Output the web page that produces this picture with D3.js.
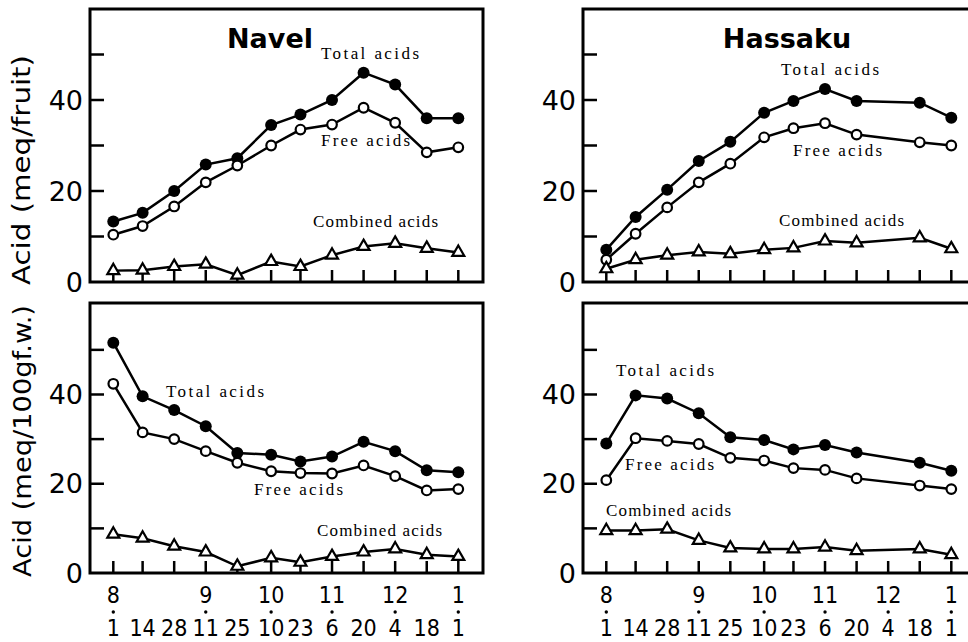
<!DOCTYPE html>
<html>
<head>
<meta charset="utf-8">
<script src="https://cdn.jsdelivr.net/npm/d3@7"></script>
<style>
  body { margin: 0; background: #fff; }
  .frame { fill: none; stroke: #000; stroke-width: 3; }
  .tick { stroke: #000; stroke-width: 2.5; }
  .line { fill: none; stroke: #000; stroke-width: 2.5; }
  .num { font-family: "DejaVu Sans", sans-serif; fill: #000; }
  .note { font-family: "Liberation Serif", serif; font-size: 17px; fill: #000; }
</style>
</head>
<body>
<div id="graph"></div>
<script>
// sampling dates (Aug 1 .. Jan 1)
var dates = ["1980-08-01","1980-08-14","1980-08-28","1980-09-11","1980-09-25","1980-10-10",
             "1980-10-23","1980-11-06","1980-11-20","1980-12-04","1980-12-18","1981-01-01"];
// hassaku has no sample on Dec 4
var hassakuDates = ["1980-08-01","1980-08-14","1980-08-28","1980-09-11","1980-09-25","1980-10-10",
                    "1980-10-23","1980-11-06","1980-11-20","1980-12-18","1981-01-01"];

var dayLabels = ["1","14","28","11","25","10","23","6","20","4","18","1"];
var monthDates = ["1980-08-01","1980-09-11","1980-10-10","1980-11-06","1980-12-04","1981-01-01"];
var monthLabels = ["8","9","10","11","12","1"];

var yTicks = [10, 20, 30, 40, 50];
var yLabels = [0, 20, 40];

// navel, meq/fruit
var navelFruitTotal    = [13.3, 15.2, 20.0, 25.8, 27.2, 34.5, 36.8, 40.0, 46.0, 43.4, 36.0, 36.0];
var navelFruitFree     = [10.4, 12.3, 16.6, 21.9, 25.6, 30.0, 33.5, 34.6, 38.3, 35.0, 28.5, 29.6];
var navelFruitCombined = [2.5, 2.6, 3.4, 3.9, 1.5, 4.5, 3.4, 5.9, 7.8, 8.5, 7.4, 6.5];

// hassaku, meq/fruit
var hassakuFruitTotal    = [7.1, 14.3, 20.3, 26.6, 30.8, 37.2, 39.8, 42.4, 39.8, 39.4, 36.1];
var hassakuFruitFree     = [4.9, 10.6, 16.4, 21.9, 26.0, 31.8, 33.8, 34.9, 32.4, 30.7, 30.0];
var hassakuFruitCombined = [2.9, 4.9, 5.9, 6.6, 6.2, 7.1, 7.5, 9.0, 8.6, 9.7, 7.3];

// navel, meq/100g f.w.
var navelFwTotal    = [51.6, 39.6, 36.5, 32.9, 26.9, 26.5, 25.0, 26.1, 29.4, 27.3, 23.0, 22.6];
var navelFwFree     = [42.4, 31.5, 30.0, 27.3, 24.7, 22.8, 22.4, 22.3, 24.1, 21.7, 18.5, 18.8];
var navelFwCombined = [8.7, 7.8, 6.0, 4.7, 1.5, 3.4, 2.4, 3.7, 4.7, 5.4, 4.1, 3.7];

// hassaku, meq/100g f.w.
var hassakuFwTotal    = [29.0, 39.8, 39.1, 35.8, 30.4, 29.8, 27.7, 28.7, 27.0, 24.7, 22.9];
var hassakuFwFree     = [20.8, 30.2, 29.6, 28.9, 25.8, 25.2, 23.5, 23.1, 21.2, 19.6, 18.8];
var hassakuFwCombined = [9.5, 9.5, 9.8, 7.3, 5.6, 5.4, 5.4, 5.8, 5.0, 5.4, 4.1];

var parseTime = d3.timeParse("%Y-%m-%d");

// panel layout
var panelWidth = 393;
var panels = [
  {left: 90,  top: 9,   height: 273, ymax: 60,   title: "Navel",   dates: dates,
   series: [navelFruitTotal, navelFruitFree, navelFruitCombined],
   notes: [[231, 50], [231, 137], [223, 218]]},
  {left: 583, top: 9,   height: 273, ymax: 60,   title: "Hassaku", dates: hassakuDates,
   series: [hassakuFruitTotal, hassakuFruitFree, hassakuFruitCombined],
   notes: [[198, 66], [210, 147], [196, 217]]},
  {left: 90,  top: 303, height: 270, ymax: 60.5, dates: dates, xLabels: true,
   series: [navelFwTotal, navelFwFree, navelFwCombined],
   notes: [[76, 94], [164, 192], [227, 233]]},
  {left: 583, top: 303, height: 270, ymax: 60.5, dates: hassakuDates, xLabels: true,
   series: [hassakuFwTotal, hassakuFwFree, hassakuFwCombined],
   notes: [[33, 73], [42, 167], [23, 213]]}
];
var noteTexts = ["Total acids", "Free acids", "Combined acids"];

var svg = d3.select("#graph")
  .append("svg")
  .attr("width", 968)
  .attr("height", 642);

// y axis titles
svg.append("text")
  .attr("class", "num")
  .attr("transform", "translate(30,170)rotate(-90)")
  .attr("text-anchor", "middle")
  .attr("textLength", 230)
  .attr("lengthAdjust", "spacingAndGlyphs")
  .style("font-size", "25px")
  .style("font-weight", "500")
  .text("Acid (meq/fruit)");

svg.append("text")
  .attr("class", "num")
  .attr("transform", "translate(31,441)rotate(-90)")
  .attr("text-anchor", "middle")
  .attr("textLength", 272)
  .attr("lengthAdjust", "spacingAndGlyphs")
  .style("font-size", "25px")
  .text("Acid (meq/100gf.w.)");

panels.forEach(function(p) {
  var g = svg.append("g")
    .attr("transform", "translate(" + p.left + "," + p.top + ")");

  var x = d3.scaleTime()
    .domain([parseTime(dates[0]), parseTime(dates[dates.length - 1])])
    .range([23.3, 368.3]);
  var y = d3.scaleLinear().domain([0, p.ymax]).range([p.height, 0]);

  // frame
  g.append("rect")
    .attr("class", "frame")
    .attr("width", panelWidth)
    .attr("height", p.height);

  // y ticks pointing inward
  g.selectAll(".ytick")
    .data(yTicks)
    .enter()
    .append("line")
    .attr("class", "tick")
    .attr("x1", 0)
    .attr("x2", 14)
    .attr("y1", function(d) { return y(d); })
    .attr("y2", function(d) { return y(d); });

  g.selectAll(".ylab")
    .data(yLabels)
    .enter()
    .append("text")
    .attr("class", "num")
    .attr("x", -7)
    .attr("y", function(d) { return y(d); })
    .attr("dy", "0.36em")
    .attr("text-anchor", "end")
    .style("font-size", "27px")
    .text(function(d) { return d; });

  // x ticks pointing up
  g.selectAll(".xtick")
    .data(dates)
    .enter()
    .append("line")
    .attr("class", "tick")
    .attr("x1", function(d) { return x(parseTime(d)); })
    .attr("x2", function(d) { return x(parseTime(d)); })
    .attr("y1", p.height)
    .attr("y2", p.height - 12);

  if (p.xLabels) {
    g.selectAll(".month")
      .data(monthDates)
      .enter()
      .append("text")
      .attr("class", "num")
      .attr("x", function(d) { return x(parseTime(d)); })
      .attr("y", p.height + 30)
      .attr("text-anchor", "middle")
      .style("font-size", "23px")
      .style("font-stretch", "condensed")
      .text(function(d, i) { return monthLabels[i]; });

    g.selectAll(".mdot")
      .data(monthDates)
      .enter()
      .append("circle")
      .attr("cx", function(d) { return x(parseTime(d)); })
      .attr("cy", p.height + 39)
      .attr("r", 1.7)
      .attr("fill", "#000");

    g.selectAll(".day")
      .data(dates)
      .enter()
      .append("text")
      .attr("class", "num")
      .attr("x", function(d) { return x(parseTime(d)); })
      .attr("y", p.height + 63)
      .attr("text-anchor", "middle")
      .style("font-size", "23px")
      .style("font-stretch", "condensed")
      .text(function(d, i) { return dayLabels[i]; });
  }

  if (p.title) {
    g.append("text")
      .attr("class", "num")
      .attr("x", p.title == "Navel" ? 180 : 204)
      .attr("y", 39)
      .attr("text-anchor", "middle")
      .style("font-size", "27px")
      .style("font-weight", "bold")
      .text(p.title);
  }

  // lines and markers
  var line = d3.line()
    .x(function(d) { return x(d.date); })
    .y(function(d) { return y(d.value); });

  p.series.forEach(function(values, k) {
    var pts = values.map(function(v, i) {
      return {date: parseTime(p.dates[i]), value: v};
    });

    g.append("path")
      .datum(pts)
      .attr("class", "line")
      .attr("d", line);

    if (k == 2) {
      g.selectAll(".tri" + k)
        .data(pts)
        .enter()
        .append("path")
        .attr("d", d3.symbol(d3.symbolTriangle).size(62))
        .attr("transform", function(d) { return "translate(" + x(d.date) + "," + y(d.value) + ")"; })
        .attr("fill", "#fff")
        .attr("stroke", "#000")
        .attr("stroke-width", 2.2);
    } else {
      g.selectAll(".dot" + k)
        .data(pts)
        .enter()
        .append("circle")
        .attr("cx", function(d) { return x(d.date); })
        .attr("cy", function(d) { return y(d.value); })
        .attr("r", k == 0 ? 6 : 4.8)
        .attr("fill", k == 0 ? "#000" : "#fff")
        .attr("stroke", "#000")
        .attr("stroke-width", k == 0 ? 0 : 2.2);
    }

    g.append("text")
      .attr("class", "note")
      .attr("x", p.notes[k][0])
      .attr("y", p.notes[k][1])
      .attr("textLength", noteTexts[k].length * 9 - 1)
      .attr("lengthAdjust", "spacing")
      .text(noteTexts[k]);
  });
});
</script>
</body>
</html>
